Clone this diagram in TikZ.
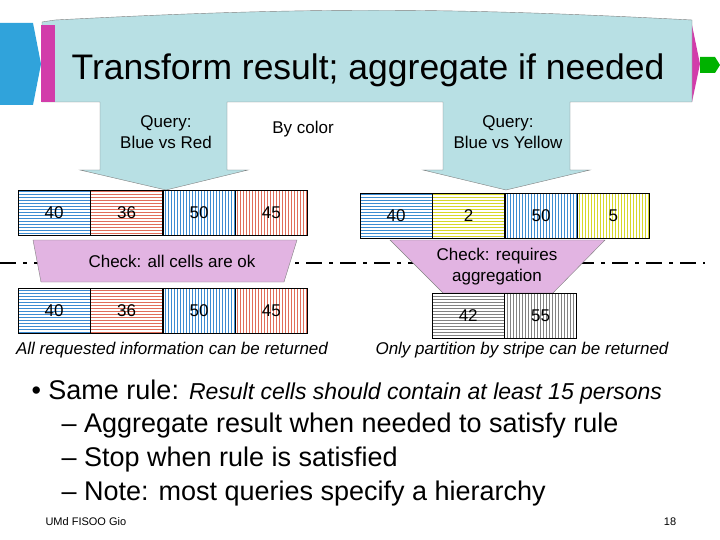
\documentclass[tikz,border=0pt]{standalone}
\usepackage{fontspec}
\setmainfont{Liberation Sans}
\usetikzlibrary{patterns, positioning}
\definecolor{banner}{RGB}{184,224,228}
\definecolor{cblue}{RGB}{60,140,210}
\definecolor{cred}{RGB}{225,110,90}
\definecolor{cyel}{RGB}{215,215,40}
\definecolor{cgray}{RGB}{130,130,130}
\definecolor{check}{RGB}{226,180,226}
\definecolor{magenta}{RGB}{210,60,170}
\begin{document}
\begin{tikzpicture}[x=1pt, y=-1pt]
	\tikzset{cell/.style={draw, minimum width=72pt, minimum height=45pt, inner sep=0pt, font=\fontsize{17}{17}\selectfont, anchor=north west}}
	\tikzset{hcell/.style={cell, pattern=horizontal lines, pattern color=#1}}
	\tikzset{vcell/.style={cell, pattern=vertical lines, pattern color=#1}}
	\tikzset{lbl/.style={font=\fontsize{17}{21}\selectfont, align=center}}
	\tikzset{bullet/.style={anchor=west, font=\fontsize{27}{27}\selectfont}}
	\useasboundingbox (0,0) rectangle (720,540);

	% Banner
	\fill [cblue!80!cyan] (0,23) -- (33,23) -- (41,64) -- (33,105) -- (0,105) -- cycle;
	\fill [green!70!black] (700,57) -- (715,57) -- (720,65) -- (715,73) -- (700,73) -- cycle;
	\fill [magenta] (692,25) -- (700,64) -- (692,102) -- cycle;
	\draw [fill=banner, draw=gray] (42,22) -- (55,20) to[bend left=3] (692,20) -- (692,102) -- (570,102) -- (570,170) -- (590,170) -- (506,190) -- (423,170) -- (443,170) -- (443,102) -- (227,102) -- (227,170) -- (248,170) -- (166,190) -- (80,170) -- (100,170) -- (100,102) -- (42,102) -- cycle;
	\fill [magenta] (41,25) rectangle (55,102);
	\node (title) [font=\fontsize{35.5}{36}\selectfont] at (368,70) {Transform result; aggregate if needed};
	\node (qred) [lbl] at (166,132) {Query:\\Blue vs Red};
	\node (qyel) [lbl] at (508,132) {Query:\\Blue vs Yellow};
	\node (bycolor) [lbl] at (303,129) {By color};

	% Separator
	\draw [line width=2.5pt, dash pattern=on 16pt off 7pt on 4pt off 7pt] (0,263) -- (705,263);

	% Left: Blue vs Red
	\node (l1) [hcell=cblue] at (18,190) {40};
	\node (l2) [hcell=cred, right=0pt of l1] {36};
	\node (l3) [vcell=cblue, right=0pt of l2] {50};
	\node (l4) [vcell=cred, right=0pt of l3] {45};
	\draw [fill=check, draw=gray] (33,240) -- (297,240) -- (284,282) -- (41,282) -- cycle;
	\node (chk1) [lbl] at (172,261) {Check: all cells are ok};
	\node (m1) [hcell=cblue] at (18,288) {40};
	\node (m2) [hcell=cred, right=0pt of m1] {36};
	\node (m3) [vcell=cblue, right=0pt of m2] {50};
	\node (m4) [vcell=cred, right=0pt of m3] {45};
	\node (capl) [font=\fontsize{17}{17}\selectfont\itshape] at (172,350) {All requested information can be returned};

	% Right: Blue vs Yellow
	\node (r1) [hcell=cblue] at (360,193) {40};
	\node (r2) [hcell=cyel, right=0pt of r1] {2};
	\node (r3) [vcell=cblue, right=0pt of r2] {50};
	\node (r4) [vcell=cyel, right=0pt of r3] {5};
	\draw [fill=check, draw=gray] (390,240) -- (605,240) -- (553,293) -- (443,293) -- cycle;
	\node (chk2) [lbl] at (497,267) {Check: requires\\aggregation};
	\node (a1) [hcell=cgray] at (432,293) {42};
	\node (a2) [vcell=cgray, right=0pt of a1] {55};
	\node (capr) [font=\fontsize{17}{17}\selectfont\itshape] at (522,350) {Only partition by stripe can be returned};

	% Bullets
	\node (b1) [bullet] at (28,392) {\textbullet\ Same rule: {\fontsize{23}{23}\selectfont\itshape Result cells should contain at least 15 persons}};
	\node (b2) [bullet] at (58,426) {-- Aggregate result when needed to satisfy rule};
	\node (b3) [bullet] at (58,460) {-- Stop when rule is satisfied};
	\node (b4) [bullet] at (58,494) {-- Note: most queries specify a hierarchy};
	\node (foot) [anchor=west, font=\fontsize{11}{11}\selectfont] at (42,522) {UMd FISOO  Gio};
	\node (page) [font=\fontsize{11}{11}\selectfont] at (670,522) {18};
\end{tikzpicture}
\end{document}
